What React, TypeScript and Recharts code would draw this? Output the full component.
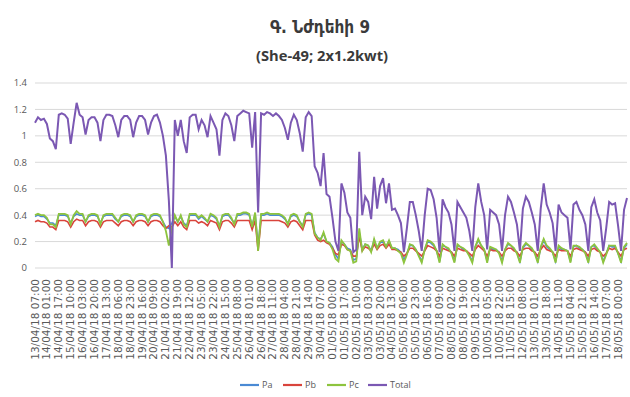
import React from 'react';
import { LineChart, Line, XAxis, YAxis, CartesianGrid } from 'recharts';

const tickLabels = [
  '13/04/18 07:00', '14/04/18 01:00', '14/04/18 17:00', '15/04/18 10:00', '16/04/18 03:00',
  '16/04/18 20:00', '17/04/18 13:00', '18/04/18 06:00', '18/04/18 23:00', '19/04/18 16:00',
  '20/04/18 09:00', '21/04/18 02:00', '21/04/18 19:00', '22/04/18 12:00', '23/04/18 05:00',
  '23/04/18 22:00', '24/04/18 15:00', '25/04/18 08:00', '26/04/18 01:00', '26/04/18 18:00',
  '27/04/18 11:00', '28/04/18 04:00', '28/04/18 21:00', '29/04/18 14:00', '30/04/18 07:00',
  '01/05/18 00:00', '01/05/18 17:00', '02/05/18 10:00', '03/05/18 03:00', '03/05/18 20:00',
  '04/05/18 13:00', '05/05/18 06:00', '05/05/18 23:00', '06/05/18 16:00', '07/05/18 09:00',
  '08/05/18 02:00', '08/05/18 19:00', '09/05/18 12:00', '10/05/18 05:00', '10/05/18 22:00',
  '11/05/18 15:00', '12/05/18 08:00', '13/05/18 01:00', '13/05/18 18:00', '14/05/18 11:00',
  '15/05/18 04:00', '15/05/18 21:00', '16/05/18 14:00', '17/05/18 07:00', '18/05/18 00:00',
];

const yTicks = [0, 0.2, 0.4, 0.6, 0.8, 1, 1.2, 1.4];

// readings sampled four times per label step
const totalValues = [
  1.10, 1.14, 1.12, 1.13, 1.09, 0.98, 0.96, 0.90, 1.16, 1.17,
  1.16, 1.13, 0.94, 1.10, 1.25, 1.16, 1.14, 1.01, 1.12, 1.14,
  1.14, 1.10, 0.96, 1.12, 1.16, 1.16, 1.15, 1.08, 0.99, 1.12,
  1.15, 1.15, 1.12, 0.99, 1.10, 1.15, 1.15, 1.12, 1.01, 1.10,
  1.15, 1.16, 1.10, 1.00, 0.85, 0.51, 0.00, 1.12, 1.00, 1.12,
  0.96, 0.87, 1.14, 1.16, 1.16, 1.05, 1.12, 1.08, 0.99, 1.15,
  1.10, 1.05, 0.85, 1.12, 1.17, 1.15, 1.08, 0.96, 1.15, 1.17,
  1.19, 1.18, 1.17, 0.91, 1.18, 0.42, 1.17, 1.16, 1.18, 1.17,
  1.15, 1.17, 1.15, 1.12, 1.06, 0.97, 1.10, 1.16, 1.12, 1.02,
  0.88, 1.14, 1.18, 1.15, 0.77, 0.72, 0.62, 0.87, 0.56, 0.54,
  0.38, 0.20, 0.13, 0.64, 0.57, 0.42, 0.38, 0.12, 0.14, 0.88,
  0.40, 0.54, 0.50, 0.37, 0.69, 0.45, 0.62, 0.68, 0.49, 0.64,
  0.44, 0.45, 0.40, 0.34, 0.12, 0.30, 0.50, 0.50, 0.40, 0.28,
  0.13, 0.40, 0.60, 0.59, 0.52, 0.38, 0.12, 0.52, 0.46, 0.42,
  0.33, 0.13, 0.50, 0.46, 0.42, 0.38, 0.28, 0.13, 0.46, 0.64,
  0.50, 0.40, 0.14, 0.44, 0.42, 0.40, 0.33, 0.13, 0.40, 0.54,
  0.50, 0.42, 0.33, 0.13, 0.45, 0.54, 0.50, 0.42, 0.33, 0.13,
  0.45, 0.64, 0.48, 0.42, 0.34, 0.13, 0.48, 0.42, 0.40, 0.38,
  0.14, 0.48, 0.50, 0.44, 0.40, 0.33, 0.13, 0.46, 0.52, 0.42,
  0.36, 0.13, 0.30, 0.50, 0.48, 0.49, 0.32, 0.13, 0.44, 0.53,
];

const paValues = [
  0.39, 0.40, 0.39, 0.39, 0.37, 0.34, 0.34, 0.32, 0.40, 0.40,
  0.40, 0.39, 0.34, 0.39, 0.41, 0.40, 0.40, 0.35, 0.39, 0.40,
  0.40, 0.39, 0.34, 0.39, 0.40, 0.40, 0.40, 0.37, 0.35, 0.39,
  0.40, 0.40, 0.39, 0.35, 0.39, 0.40, 0.40, 0.39, 0.35, 0.39,
  0.40, 0.40, 0.39, 0.35, 0.31, 0.30, 0.34, 0.39, 0.35, 0.39,
  0.34, 0.32, 0.40, 0.40, 0.40, 0.37, 0.39, 0.37, 0.35, 0.40,
  0.39, 0.37, 0.32, 0.39, 0.40, 0.40, 0.37, 0.34, 0.40, 0.40,
  0.41, 0.41, 0.40, 0.32, 0.41, 0.16, 0.40, 0.40, 0.41, 0.40,
  0.40, 0.40, 0.40, 0.39, 0.37, 0.34, 0.39, 0.40, 0.39, 0.35,
  0.32, 0.40, 0.41, 0.40, 0.27, 0.23, 0.22, 0.26, 0.20, 0.19,
  0.16, 0.10, 0.07, 0.20, 0.18, 0.15, 0.14, 0.06, 0.07, 0.27,
  0.14, 0.18, 0.17, 0.13, 0.21, 0.15, 0.19, 0.20, 0.16, 0.20,
  0.15, 0.15, 0.14, 0.12, 0.06, 0.11, 0.17, 0.17, 0.14, 0.10,
  0.05, 0.14, 0.20, 0.19, 0.17, 0.13, 0.05, 0.17, 0.16, 0.14,
  0.12, 0.05, 0.17, 0.16, 0.14, 0.13, 0.10, 0.05, 0.16, 0.21,
  0.17, 0.14, 0.05, 0.15, 0.14, 0.14, 0.12, 0.05, 0.14, 0.18,
  0.17, 0.14, 0.12, 0.05, 0.15, 0.18, 0.17, 0.14, 0.12, 0.05,
  0.15, 0.21, 0.16, 0.14, 0.12, 0.05, 0.16, 0.14, 0.14, 0.13,
  0.05, 0.16, 0.17, 0.15, 0.14, 0.12, 0.05, 0.16, 0.17, 0.14,
  0.12, 0.05, 0.11, 0.17, 0.16, 0.16, 0.11, 0.05, 0.15, 0.18,
];

const pbValues = [
  0.35, 0.36, 0.35, 0.35, 0.34, 0.31, 0.31, 0.29, 0.36, 0.36,
  0.36, 0.35, 0.31, 0.35, 0.37, 0.36, 0.36, 0.32, 0.35, 0.36,
  0.36, 0.35, 0.31, 0.35, 0.36, 0.36, 0.36, 0.34, 0.32, 0.35,
  0.36, 0.36, 0.35, 0.32, 0.35, 0.36, 0.36, 0.35, 0.32, 0.35,
  0.36, 0.36, 0.35, 0.32, 0.30, 0.32, 0.31, 0.35, 0.32, 0.35,
  0.31, 0.29, 0.36, 0.36, 0.36, 0.34, 0.35, 0.34, 0.32, 0.36,
  0.35, 0.34, 0.29, 0.35, 0.36, 0.36, 0.34, 0.31, 0.36, 0.36,
  0.36, 0.36, 0.36, 0.29, 0.36, 0.13, 0.36, 0.36, 0.36, 0.36,
  0.36, 0.36, 0.36, 0.35, 0.34, 0.31, 0.35, 0.36, 0.35, 0.32,
  0.29, 0.36, 0.36, 0.36, 0.25, 0.21, 0.20, 0.21, 0.19, 0.18,
  0.15, 0.11, 0.10, 0.18, 0.17, 0.14, 0.13, 0.09, 0.09, 0.24,
  0.13, 0.16, 0.15, 0.13, 0.18, 0.14, 0.17, 0.18, 0.15, 0.18,
  0.14, 0.14, 0.13, 0.12, 0.09, 0.11, 0.15, 0.15, 0.13, 0.11,
  0.09, 0.13, 0.17, 0.16, 0.15, 0.13, 0.09, 0.15, 0.14, 0.13,
  0.12, 0.09, 0.15, 0.14, 0.13, 0.13, 0.11, 0.09, 0.14, 0.17,
  0.15, 0.13, 0.09, 0.14, 0.13, 0.13, 0.12, 0.09, 0.13, 0.15,
  0.15, 0.13, 0.12, 0.09, 0.14, 0.15, 0.15, 0.13, 0.12, 0.09,
  0.14, 0.17, 0.14, 0.13, 0.12, 0.09, 0.14, 0.13, 0.13, 0.13,
  0.09, 0.14, 0.15, 0.14, 0.13, 0.12, 0.09, 0.14, 0.15, 0.13,
  0.12, 0.09, 0.11, 0.15, 0.14, 0.15, 0.12, 0.09, 0.14, 0.15,
];

const pcValues = [
  0.40, 0.41, 0.40, 0.40, 0.38, 0.33, 0.33, 0.31, 0.41, 0.41,
  0.41, 0.40, 0.33, 0.40, 0.43, 0.41, 0.41, 0.35, 0.40, 0.41,
  0.41, 0.40, 0.33, 0.40, 0.41, 0.41, 0.41, 0.38, 0.35, 0.40,
  0.41, 0.41, 0.40, 0.35, 0.40, 0.41, 0.41, 0.40, 0.35, 0.40,
  0.41, 0.41, 0.40, 0.35, 0.28, 0.17, 0.30, 0.40, 0.35, 0.40,
  0.33, 0.31, 0.41, 0.41, 0.41, 0.38, 0.40, 0.38, 0.35, 0.41,
  0.40, 0.38, 0.31, 0.40, 0.41, 0.41, 0.38, 0.33, 0.41, 0.41,
  0.42, 0.42, 0.41, 0.31, 0.42, 0.13, 0.41, 0.41, 0.42, 0.41,
  0.41, 0.41, 0.41, 0.40, 0.38, 0.33, 0.40, 0.41, 0.40, 0.35,
  0.31, 0.41, 0.42, 0.41, 0.26, 0.23, 0.21, 0.27, 0.20, 0.19,
  0.14, 0.07, 0.05, 0.21, 0.18, 0.14, 0.13, 0.04, 0.05, 0.30,
  0.13, 0.18, 0.17, 0.12, 0.22, 0.15, 0.20, 0.21, 0.16, 0.21,
  0.15, 0.15, 0.13, 0.11, 0.04, 0.10, 0.18, 0.17, 0.14, 0.09,
  0.04, 0.14, 0.21, 0.20, 0.18, 0.13, 0.04, 0.18, 0.16, 0.15,
  0.11, 0.04, 0.18, 0.16, 0.15, 0.13, 0.09, 0.04, 0.16, 0.22,
  0.17, 0.14, 0.04, 0.16, 0.15, 0.14, 0.11, 0.04, 0.14, 0.19,
  0.17, 0.15, 0.11, 0.04, 0.16, 0.19, 0.17, 0.15, 0.11, 0.04,
  0.16, 0.22, 0.17, 0.15, 0.12, 0.04, 0.17, 0.15, 0.14, 0.13,
  0.04, 0.17, 0.17, 0.16, 0.14, 0.11, 0.04, 0.16, 0.18, 0.15,
  0.12, 0.04, 0.10, 0.17, 0.17, 0.17, 0.11, 0.04, 0.16, 0.19,
];

const series = [
  { key: 'Pa', color: '#4a8ad4', width: 1.6 },
  { key: 'Pb', color: '#d9443c', width: 1.6 },
  { key: 'Pc', color: '#8dc43e', width: 1.8 },
  { key: 'Total', color: '#7b58b3', width: 2 },
];

const data = totalValues.map((v, i) => ({
  t: i / 4,
  Pa: paValues[i],
  Pb: pbValues[i],
  Pc: pcValues[i],
  Total: v,
}));

const DateTick = (props: any) => {
  const { x, y, payload } = props;
  return (
    <text
      transform={`translate(${x + 3.5},${y + 3}) rotate(-90)`}
      textAnchor="end"
      fontSize={10.5}
      fontFamily="DejaVu Sans"
      fill="#595959"
    >
      {tickLabels[payload.value]}
    </text>
  );
};

const legendX = [240, 283, 327, 368];

const App = () => {
  return (
    <div style={{ position: 'absolute', left: 0, top: 0, width: 630, height: 397, background: '#fff' }}>
      <LineChart width={630} height={397} data={data} margin={{ top: 83, right: 3, bottom: 29, left: 0 }}>
        <CartesianGrid vertical={false} stroke="#d9d9d9" />
        <XAxis
          dataKey="t"
          type="number"
          domain={[0, 49.75]}
          ticks={tickLabels.map((_, i) => i)}
          interval={0}
          tick={<DateTick />}
          tickLine={false}
          axisLine={false}
          height={100}
        />
        <YAxis
          domain={[0, 1.4]}
          ticks={yTicks}
          width={35}
          tickLine={false}
          axisLine={false}
          tick={{ fontSize: 9.5, fill: '#595959', fontFamily: 'Open Sans' }}
        />
        {series.map((s) => (
          <Line
            key={s.key}
            dataKey={s.key}
            type="linear"
            stroke={s.color}
            strokeWidth={s.width}
            dot={false}
            isAnimationActive={false}
          />
        ))}
      </LineChart>
      <svg width={630} height={397} style={{ position: 'absolute', left: 0, top: 0, pointerEvents: 'none' }}>
        <text x={320} y={33} textAnchor="middle" fontSize={17} fontWeight="bold" fontFamily="DejaVu Sans" fill="#3a3a3a" textLength={100} lengthAdjust="spacingAndGlyphs">
          Գ. Նժդեհի 9
        </text>
        <text x={322} y={61} textAnchor="middle" fontSize={15} fontWeight="bold" fontFamily="Open Sans" fill="#3a3a3a" textLength={132} lengthAdjust="spacingAndGlyphs">
          (She-49; 2x1.2kwt)
        </text>
        {series.map((s, i) => (
          <g key={s.key}>
            <line x1={legendX[i]} x2={legendX[i] + 19} y1={385} y2={385} stroke={s.color} strokeWidth={2.2} />
            <text x={legendX[i] + 22} y={388} fontSize={9} fontFamily="Open Sans" fill="#595959">
              {s.key}
            </text>
          </g>
        ))}
      </svg>
    </div>
  );
};

export default App;
